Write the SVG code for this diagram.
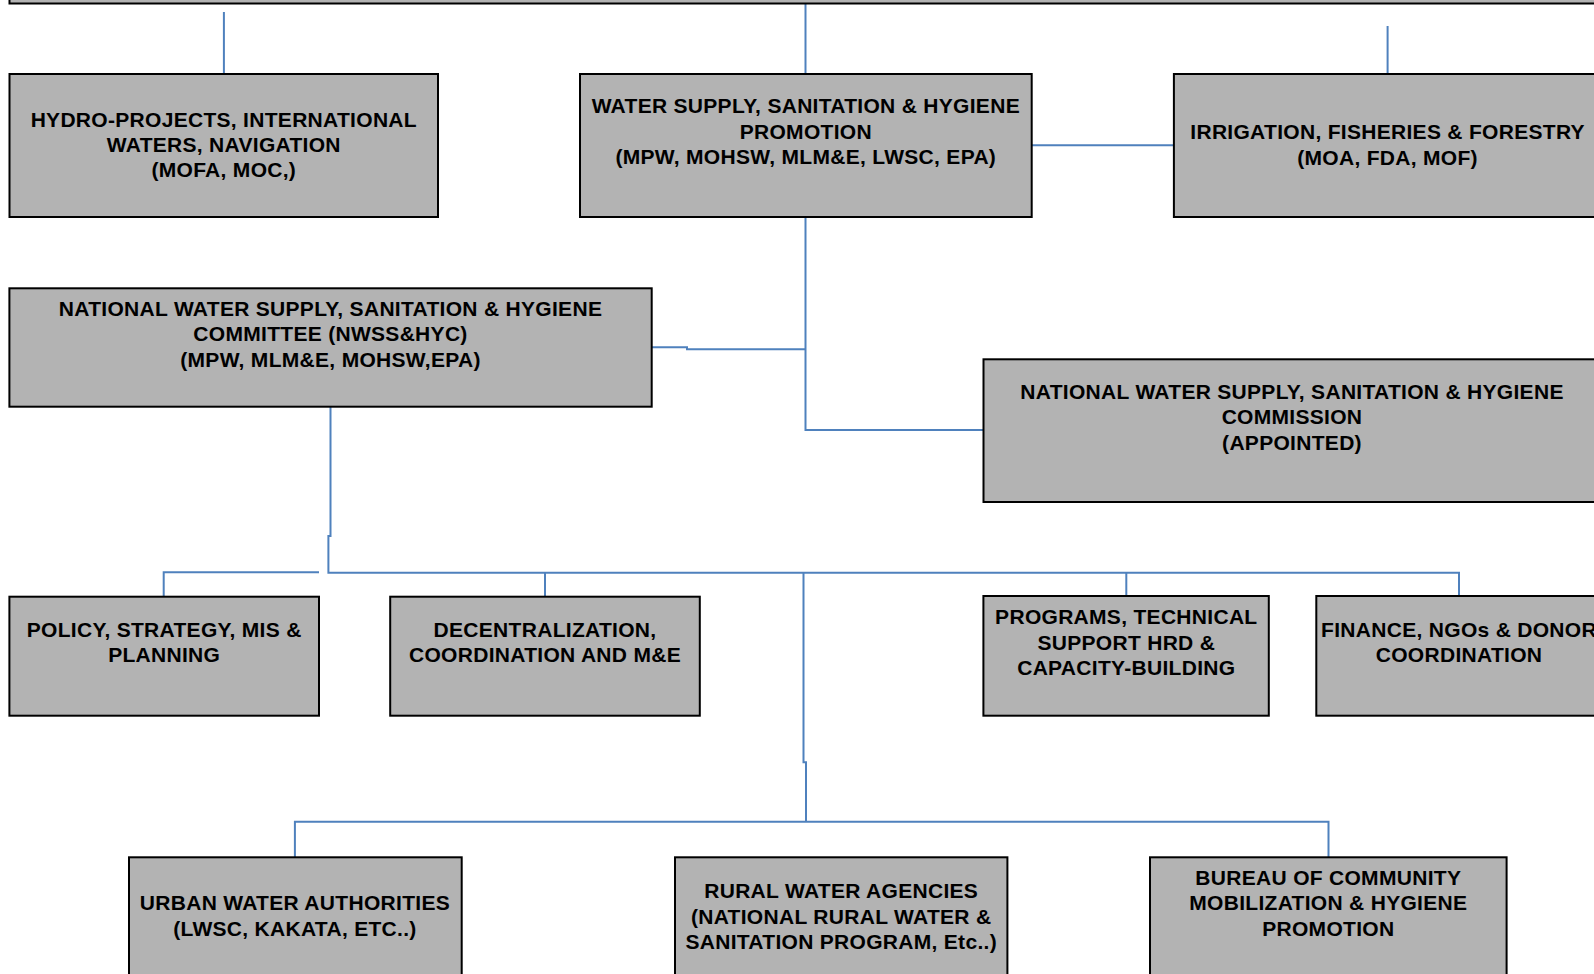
<svg xmlns="http://www.w3.org/2000/svg" width="1594" height="974" viewBox="0 0 1594 974">
<style>
.box{fill:#b3b3b3;stroke:#000;stroke-width:2}
.lbl{font-family:"Liberation Sans",Arial,sans-serif;font-weight:bold;font-size:21px;letter-spacing:0.3px;fill:#000;text-anchor:middle}
.con{fill:none;stroke:#4f81bd;stroke-width:2}
</style>
<rect width="1594" height="974" fill="#fff"/>
<g id="connectors">
<path class="con" d="M223.9 12V74"/>
<path class="con" d="M805.5 3.5V74"/>
<path class="con" d="M1387.6 26V74"/>
<path class="con" d="M1031.7 145.3H1173.9"/>
<path class="con" d="M805.5 217V430H983.5"/>
<path class="con" d="M651.7 347.3H687V349.3H805.5"/>
<path class="con" d="M330.5 406.7V536H328.4V572.7H1459V596"/>
<path class="con" d="M319 572.2H163.7V596.7"/>
<path class="con" d="M545 572.7V596.7"/>
<path class="con" d="M1126.3 572.7V596"/>
<path class="con" d="M803.5 572.7V762.3H806V821.7"/>
<path class="con" d="M294.9 857.3V821.7H1328.5V857.3"/>
</g>
<g id="top"><rect class="box" x="9.5" y="-50" width="1640" height="53.5"/></g>
<g id="hydro"><rect class="box" x="9.5" y="74" width="428.5" height="143"/>
<text class="lbl"><tspan x="223.8" y="126.6">HYDRO-PROJECTS, INTERNATIONAL</tspan><tspan x="223.8" y="152">WATERS, NAVIGATION</tspan><tspan x="223.8" y="177.4">(MOFA, MOC,)</tspan></text></g>
<g id="wss"><rect class="box" x="580" y="74" width="451.7" height="143"/>
<text class="lbl"><tspan x="805.8" y="113.3">WATER SUPPLY, SANITATION &amp; HYGIENE</tspan><tspan x="805.8" y="138.7">PROMOTION</tspan><tspan x="805.8" y="164.1">(MPW, MOHSW, MLM&amp;E, LWSC, EPA)</tspan></text></g>
<g id="irrigation"><rect class="box" x="1173.9" y="74" width="427.4" height="143"/>
<text class="lbl"><tspan x="1387.6" y="139.3">IRRIGATION, FISHERIES &amp; FORESTRY</tspan><tspan x="1387.6" y="164.7">(MOA, FDA, MOF)</tspan></text></g>
<g id="committee"><rect class="box" x="9.4" y="288.3" width="642.3" height="118.4"/>
<text class="lbl"><tspan x="330.5" y="316">NATIONAL WATER SUPPLY, SANITATION &amp; HYGIENE</tspan><tspan x="330.5" y="341.4">COMMITTEE (NWSS&amp;HYC)</tspan><tspan x="330.5" y="366.8">(MPW, MLM&amp;E, MOHSW,EPA)</tspan></text></g>
<g id="commission"><rect class="box" x="983.5" y="359.3" width="617" height="142.7"/>
<text class="lbl"><tspan x="1292" y="398.8">NATIONAL WATER SUPPLY, SANITATION &amp; HYGIENE</tspan><tspan x="1292" y="424.2">COMMISSION</tspan><tspan x="1292" y="449.5">(APPOINTED)</tspan></text></g>
<g id="policy"><rect class="box" x="9.4" y="596.7" width="309.6" height="119"/>
<text class="lbl"><tspan x="164.2" y="637">POLICY, STRATEGY, MIS &amp;</tspan><tspan x="164.2" y="662.3">PLANNING</tspan></text></g>
<g id="decentralization"><rect class="box" x="390.2" y="596.7" width="309.6" height="119"/>
<text class="lbl"><tspan x="545" y="637">DECENTRALIZATION,</tspan><tspan x="545" y="662.3">COORDINATION AND M&amp;E</tspan></text></g>
<g id="programs"><rect class="box" x="983.4" y="596" width="285.4" height="119.7"/>
<text class="lbl"><tspan x="1126.3" y="624">PROGRAMS, TECHNICAL</tspan><tspan x="1126.3" y="649.5">SUPPORT HRD &amp;</tspan><tspan x="1126.3" y="675">CAPACITY-BUILDING</tspan></text></g>
<g id="finance"><rect class="box" x="1316.3" y="596" width="285.4" height="119.7"/>
<text class="lbl"><tspan x="1459" y="637">FINANCE, NGOs &amp; DONOR</tspan><tspan x="1459" y="662.3">COORDINATION</tspan></text></g>
<g id="urban"><rect class="box" x="129" y="857.3" width="332.7" height="140"/>
<text class="lbl"><tspan x="294.9" y="910.2">URBAN WATER AUTHORITIES</tspan><tspan x="294.9" y="935.6">(LWSC, KAKATA, ETC..)</tspan></text></g>
<g id="rural"><rect class="box" x="675" y="857.3" width="332.4" height="140"/>
<text class="lbl"><tspan x="841.2" y="898">RURAL WATER AGENCIES</tspan><tspan x="841.2" y="923.5">(NATIONAL RURAL WATER &amp;</tspan><tspan x="841.2" y="949">SANITATION PROGRAM, Etc..)</tspan></text></g>
<g id="bureau"><rect class="box" x="1150" y="857.3" width="356.6" height="140"/>
<text class="lbl"><tspan x="1328.3" y="884.8">BUREAU OF COMMUNITY</tspan><tspan x="1328.3" y="910.2">MOBILIZATION &amp; HYGIENE</tspan><tspan x="1328.3" y="935.6">PROMOTION</tspan></text></g>
</svg>
